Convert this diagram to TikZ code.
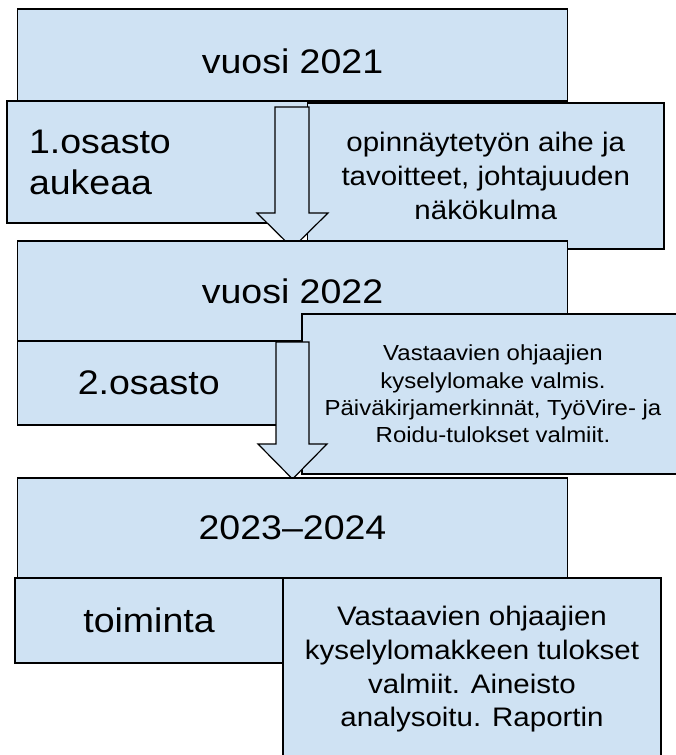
\documentclass[tikz,border=0pt]{standalone}
\usepackage{fontspec}
\setmainfont{Liberation Sans}[FakeStretch=1.1]
\definecolor{phaseblue}{HTML}{CFE2F3}
\newcommand{\bigtext}{\fontsize{34.1}{41}\selectfont}
\newcommand{\midtext}{\fontsize{26.8}{33.7}\selectfont}
\newcommand{\smalltext}{\fontsize{21.8}{27.4}\selectfont}
\tikzstyle{phase}=[draw, fill=phaseblue, line width=1.2pt, anchor=north west, inner sep=0, outer sep=0]
\tikzstyle{year}=[phase, font=\bigtext, minimum width=550pt, minimum height=100pt]
\tikzstyle{unit}=[phase, font=\bigtext]
\tikzstyle{task}=[phase, align=center]
\tikzstyle{block arrow}=[draw, fill=phaseblue, line width=1.2pt, line join=miter]

\begin{document}
\begin{tikzpicture}[x=1pt, y=-1pt]
          \useasboundingbox (0, 0) rectangle (675, 755);

          \node[year, minimum height=92pt, text height=37pt, text depth=0pt] (year_1) at (17.5, 9) {vuosi 2021};
          \node[unit, align=left, text width=257pt, inner xsep=22pt, minimum height=122pt] (unit_1) at (7, 101) {1.osasto\\aukeaa};
          \node[task, font=\midtext, minimum width=356.5pt, minimum height=146pt] (task_1) at (307.5, 103)
            {opinnäytetyön aihe ja\\tavoitteet, johtajuuden\\näkökulma};
          \draw[block arrow] (275, 107) -- (309, 107) -- (309, 213) -- (328, 213)
            -- (292.5, 248) -- (257, 213) -- (275, 213) -- cycle;

          \node[year] (year_2) at (17.5, 241) {vuosi 2022};
          \node[unit, minimum width=262.5pt, minimum height=84pt] (unit_2) at (17.5, 341) {2.osasto};
          \node[task, font=\smalltext, minimum width=382pt, minimum height=160pt] (task_2) at (302, 314)
            {Vastaavien ohjaajien\\kyselylomake valmis.\\Päiväkirjamerkinnät, TyöVire- ja\\Roidu-tulokset valmiit.};
          \draw[block arrow] (276, 342) -- (309, 342) -- (309, 444) -- (327, 444)
            -- (292.5, 479) -- (258, 444) -- (276, 444) -- cycle;

          \node[year] (year_3) at (17.5, 478) {2023–2024};
          \node[unit, minimum width=268pt, minimum height=85pt] (unit_3) at (15, 578) {toiminta};
          \node[task, font=\midtext, minimum width=378pt, minimum height=183pt] (task_3) at (283, 578)
            {Vastaavien ohjaajien\\kyselylomakkeen tulokset\\valmiit. Aineisto\\analysoitu. Raportin};
        \end{tikzpicture}
\end{document}
